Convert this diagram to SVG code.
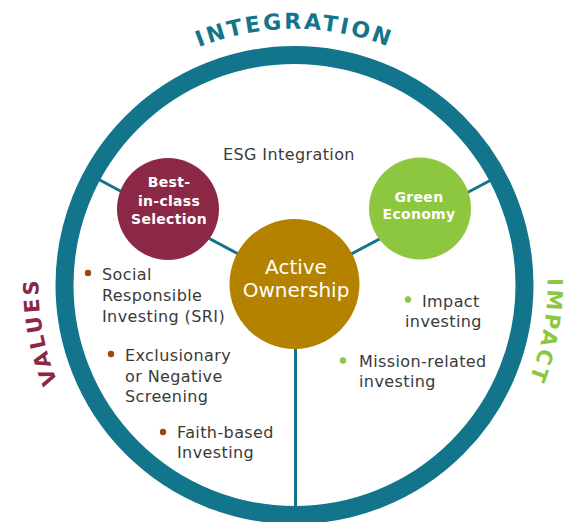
<svg xmlns="http://www.w3.org/2000/svg" width="569" height="522" viewBox="0 0 569 522">
  <style>
    .ring { fill: none; stroke: #13758b; stroke-width: 18; }
    .spoke { stroke: #13758b; stroke-width: 3; fill: none; }
    .node-title { font-family: "DejaVu Sans", "Liberation Sans", sans-serif; font-weight: bold; font-size: 14px; fill: #ffffff; text-anchor: middle; letter-spacing: 0.3px; }
    .node-main { font-family: "DejaVu Sans", "Liberation Sans", sans-serif; font-size: 20px; fill: #ffffff; text-anchor: middle; }
    .body { font-family: "DejaVu Sans", "Liberation Sans", sans-serif; font-size: 16px; fill: #3a3a3a; letter-spacing: 0.4px; }
    .arc-label { font-family: "DejaVu Sans", "Liberation Sans", sans-serif; font-weight: bold; }
    .dot-brown { fill: #9a4710; }
    .dot-green { fill: #8dc63f; }
  </style>
  <defs>
    <!-- baseline arcs around the ring centre (294.5,285) -->
    <path id="arc-top" d="M53.9,197.4 A256,256 0 0 1 535.1,197.4"/>
    <path id="arc-left" d="M57.6,382.1 A256,256 0 0 1 53.9,197.4"/>
    <path id="arc-right" d="M547.4,278.4 A253,253 0 0 1 488.3,447.6"/>
  </defs>

  <rect width="569" height="522" fill="#ffffff"/>

  <!-- outer ring -->
  <g id="ring">
    <circle class="ring" cx="294.5" cy="285" r="230"/>
  </g>

  <!-- curved section labels -->
  <g id="labels">
    <text class="arc-label" font-size="22" fill="#13758b" letter-spacing="2.6"><textPath href="#arc-top" startOffset="50%" text-anchor="middle">INTEGRATION</textPath></text>
    <text class="arc-label" font-size="21" fill="#8b2846" letter-spacing="2.8"><textPath href="#arc-left">VALUES</textPath></text>
    <text class="arc-label" font-size="21" fill="#8dc63f" letter-spacing="2.8"><textPath href="#arc-right">IMPACT</textPath></text>
  </g>

  <!-- spokes from the hub to the ring -->
  <g id="connectors">
    <line class="spoke" x1="96" y1="178" x2="294.5" y2="284"/>
    <line class="spoke" x1="493" y1="179" x2="294.5" y2="284"/>
    <line class="spoke" x1="295.5" y1="284" x2="295.5" y2="508"/>
  </g>

  <g id="best-in-class">
    <circle cx="168" cy="209" r="51" fill="#8b2846"/>
    <text class="node-title" x="169" y="187">Best-</text>
    <text class="node-title" x="169" y="205.5">in-class</text>
    <text class="node-title" x="169" y="224">Selection</text>
  </g>

  <g id="green-economy">
    <circle cx="420" cy="208.5" r="51" fill="#8dc63f"/>
    <text class="node-title" x="419" y="202">Green</text>
    <text class="node-title" x="419" y="218.5">Economy</text>
  </g>

  <g id="active-ownership">
    <circle cx="294.5" cy="284" r="65" fill="#b58200"/>
    <text class="node-main" x="296" y="274">Active</text>
    <text class="node-main" x="296" y="297">Ownership</text>
  </g>

  <g id="esg-integration">
    <text class="body" x="223" y="160" letter-spacing="0.7">ESG Integration</text>
  </g>

  <g id="sri">
    <circle class="dot-brown" cx="88" cy="273" r="3.2"/>
    <text class="body" x="102" y="280">Social</text>
    <text class="body" x="102" y="301">Responsible</text>
    <text class="body" x="102" y="322">Investing (SRI)</text>
  </g>

  <g id="exclusionary">
    <circle class="dot-brown" cx="111" cy="354" r="3.2"/>
    <text class="body" x="125" y="361">Exclusionary</text>
    <text class="body" x="125" y="382">or Negative</text>
    <text class="body" x="125" y="402">Screening</text>
  </g>

  <g id="faith-based">
    <circle class="dot-brown" cx="163" cy="432" r="3.2"/>
    <text class="body" x="177" y="438">Faith-based</text>
    <text class="body" x="177" y="458">Investing</text>
  </g>

  <g id="impact-investing">
    <circle class="dot-green" cx="408" cy="299.5" r="3.2"/>
    <text class="body" x="422" y="307">Impact</text>
    <text class="body" x="405" y="327">investing</text>
  </g>

  <g id="mission-related">
    <circle class="dot-green" cx="343" cy="360.5" r="3.2"/>
    <text class="body" x="359" y="367">Mission-related</text>
    <text class="body" x="359" y="387">investing</text>
  </g>
</svg>
